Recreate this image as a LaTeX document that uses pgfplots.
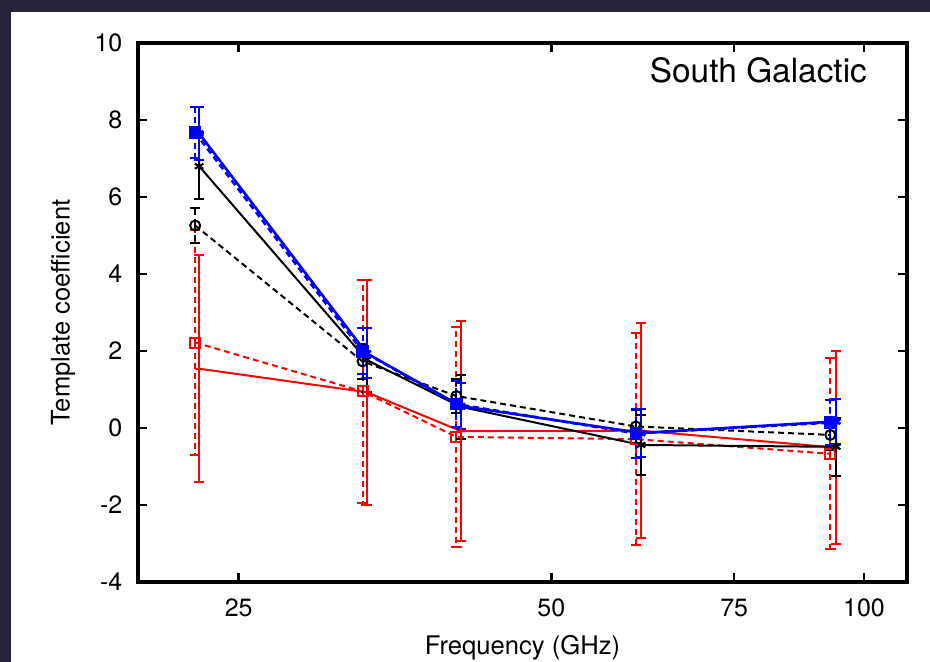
\documentclass[border=0pt]{standalone}
\usepackage{pgfplots}
\pgfplotsset{compat=1.18}
\usepackage{fontspec}
\setmainfont{TeX Gyre Heros}
\definecolor{bgcol}{HTML}{25243A}
\begin{document}
\begin{tikzpicture}[x=1pt,y=1pt]
\fill[bgcol] (-69,-40) rectangle (396,291);
\fill[white] (-63.5,-40) rectangle (396,285);
\begin{axis}[
  at={(0,0)}, anchor=south west,
  scale only axis, width=384.5pt, height=269.5pt,
  xmode=log, xmin=20, xmax=110, ymin=-4, ymax=10,
  xtick={25,50,75,100}, xticklabels={25,50,75,100},
  minor xtick={}, log ticks with fixed point,
  ytick={-4,-2,0,2,4,6,8,10},
  tick align=inside, tick pos=both,
  major tick length=4.5pt,
  every tick/.style={line width=1.3pt, black},
  axis line style={line width=2pt},
  /pgf/number format/assume math mode=true,
  tick label style={font=\fontsize{12.5}{15}\selectfont},
  xticklabel style={yshift=-5pt},
  yticklabel style={xshift=-4.3pt},
  label style={font=\fontsize{12.8}{15}\selectfont},
  xlabel={Frequency (GHz)},
  ylabel={Template coefficient},
  xlabel style={at={(axis description cs:0.5,-0.1225)}, anchor=center},
  ylabel style={at={(axis description cs:-0.0975,0.5)}, anchor=center},
  error bars/y dir=both, error bars/y explicit,
  error bars/error mark options={rotate=90, mark size=2.6pt, line width=1pt},
]
% red solid
\addplot[red, line width=1pt, mark=+, mark size=2pt,
  error bars/error bar style={red, line width=1pt, solid}]
  table[x=x, y=y, y error=e] {
x y e
22.9 1.54 2.95
33.2 0.93 2.92
40.9 -0.08 2.85
61.0 -0.07 2.79
94.0 -0.51 2.51
};
% red dashed
\addplot[red, line width=1pt, dash pattern=on 3pt off 2pt, mark=square, mark size=2.5pt, mark options={solid},
  error bars/error bar style={red, line width=1pt, dash pattern=on 3pt off 2pt}]
  table[x=x, y=y, y error=e] {
x y e
22.7 2.22 2.92
32.9 0.95 2.90
40.5 -0.23 2.86
60.3 -0.29 2.76
92.8 -0.67 2.48
};
% black solid
\addplot[black, line width=1pt, mark=asterisk, mark size=2.5pt,
  error bars/error bar style={black, line width=1pt, solid}]
  table[x=x, y=y, y error=e] {
x y e
22.9 6.80 0.85
33.2 1.77 0.84
40.9 0.55 0.83
61.0 -0.44 0.78
94.0 -0.49 0.75
};
% black dashed
\addplot[black, line width=1pt, dash pattern=on 3pt off 2pt, mark=o, mark size=2.5pt, mark options={solid},
  error bars/error bar style={black, line width=1pt, dash pattern=on 3pt off 2pt}]
  table[x=x, y=y, y error=e] {
x y e
22.7 5.26 0.45
32.9 1.73 0.45
40.5 0.83 0.44
60.3 0.04 0.43
92.8 -0.18 0.40
};
% blue dashed
\addplot[blue, line width=1.3pt, dash pattern=on 3pt off 2pt, mark=square*, mark size=2.5pt, mark options={solid},
  error bars/error bar style={blue, line width=1pt, dash pattern=on 3pt off 2pt}]
  table[x=x, y=y, y error=e] {
x y e
22.7 7.67 0.67
32.9 1.99 0.60
40.5 0.62 0.59
60.3 -0.14 0.63
92.8 0.14 0.58
};
% blue solid
\addplot[blue, line width=1.3pt, mark=asterisk, mark size=2.5pt,
  error bars/error bar style={blue, line width=1pt, solid}]
  table[x=x, y=y, y error=e] {
x y e
22.9 7.65 0.70
33.2 1.94 0.65
40.9 0.57 0.60
61.0 -0.13 0.63
94.0 0.17 0.58
};
\node[anchor=base east, font=\fontsize{16.7}{20}\selectfont] at (rel axis cs:0.957,0.9276) {South Galactic};
\end{axis}
\pgfresetboundingbox
\useasboundingbox (-69,-40) rectangle (396,291);
\end{tikzpicture}
\end{document}
